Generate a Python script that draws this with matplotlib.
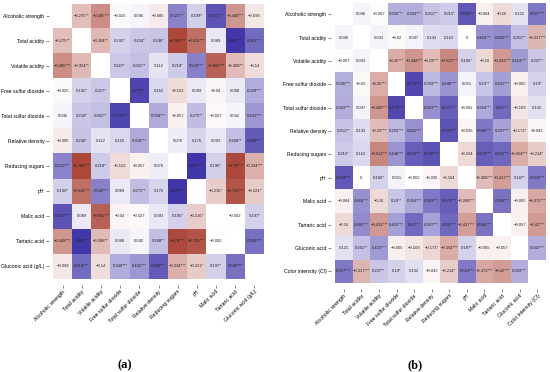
import numpy as np
import matplotlib
matplotlib.use('Agg')
import matplotlib.pyplot as plt
from matplotlib.colors import LinearSegmentedColormap

plt.rcParams['font.family'] = ['Liberation Sans', 'DejaVu Sans']

# (a) variables and lower triangle of the correlation matrix
labels_a = ['Alcoholic strength', 'Total acidity', 'Volatile acidity', 'Free sulfur dioxide',
            'Total sulfur dioxide', 'Relative density', 'Reducing sugars', 'pH',
            'Malic acid', 'Tartaric acid', 'Gluconic acid (g/L)']
corr_a = [
    [-0.275],
    [-0.485, -0.304],
    [-0.025, 0.192, 0.227],
    [0.046, 0.234, 0.261, 0.779],
    [-0.085, 0.246, 0.112, 0.162, 0.358],
    [0.521, -0.785, 0.218, -0.152, -0.057, 0.076],
    [0.199, -0.616, 0.529, 0.089, 0.275, 0.176, 0.897],
    [0.721, 0.089, -0.682, -0.04, -0.027, 0.093, 0.195, -0.216],
    [-0.448, 0.84, -0.288, 0.088, 0.042, 0.268, -0.78, -0.726, -0.002],
    [-0.098, 0.619, -0.14, 0.349, 0.432, 0.686, -0.334, -0.221, 0.197, 0.599],
]
stars_a = [
    [2],
    [3, 2],
    [0, 1, 1],
    [0, 1, 2, 3],
    [0, 1, 0, 0, 3],
    [3, 3, 1, 0, 0, 0],
    [1, 3, 3, 0, 2, 0, 3],
    [3, 0, 3, 0, 0, 0, 1, 1],
    [3, 3, 2, 0, 0, 2, 3, 3, 0],
    [0, 3, 0, 3, 3, 3, 3, 1, 1, 3],
]

# (b) variables and lower triangle
labels_b = ['Alcoholic strength', 'Total acidity', 'Volatile acidity', 'Free sulfur dioxide',
            'Total sulfur dioxide', 'Relative density', 'Reducing sugars', 'pH',
            'Malic acid', 'Tartaric acid', 'Gluconic acid', 'Color intensity (CI)']
corr_b = [
    [0.046],
    [-0.007, 0.043],
    [0.336, -0.02, -0.35],
    [0.343, 0.047, -0.448, 0.773],
    [0.251, 0.143, -0.29, 0.293, 0.463],
    [0.215, 0.163, -0.513, 0.448, 0.676, 0.722],
    [0.704, 0, 0.186, 0.051, -0.002, -0.035, -0.164],
    [-0.064, 0.464, -0.16, 0.24, 0.364, 0.569, 0.673, -0.288],
    [-0.16, 0.485, -0.432, 0.402, 0.63, 0.397, 0.632, -0.417, 0.586],
    [0.121, 0.261, 0.423, -0.065, -0.109, -0.173, -0.354, 0.187, -0.065, -0.057],
    [0.567, -0.317, 0.237, 0.19, 0.132, -0.043, -0.214, 0.563, -0.372, -0.42, 0.343],
]
stars_b = [
    [0],
    [0, 0],
    [3, 0, 3],
    [3, 0, 3, 3],
    [2, 0, 3, 3, 3],
    [1, 0, 3, 3, 3, 3],
    [3, 0, 1, 0, 0, 0, 0],
    [0, 3, 0, 2, 3, 3, 3, 3],
    [0, 3, 3, 3, 3, 3, 3, 3, 3],
    [0, 2, 3, 0, 0, 1, 3, 1, 0, 0],
    [3, 3, 2, 1, 0, 0, 1, 3, 3, 3, 3],
]

cmap = LinearSegmentedColormap.from_list('rw_b', ['#a63a2c', '#ffffff', '#4136a8'])


def full_matrix(lower):
    n = len(lower) + 1
    m = np.full((n, n), np.nan)
    for i, row in enumerate(lower, start=1):
        for j, v in enumerate(row):
            m[i, j] = v
            m[j, i] = v
    return m


def draw(ax, labels, lower, stars):
    vals = full_matrix(lower)
    st = full_matrix(stars)
    n = len(labels)
    # spine offsets first: set_position resets the tick labels
    for s in ax.spines.values():
        s.set_visible(False)
    ax.spines['bottom'].set_position(('outward', 4))
    ax.spines['left'].set_position(('outward', 3))
    ax.imshow(vals, cmap=cmap, vmin=-0.85, vmax=0.85, aspect='auto', interpolation='nearest')
    for i in range(n):
        for j in range(n):
            if np.isnan(vals[i, j]):
                continue
            txt = f'{vals[i, j]:g}'.replace('-', '\u2212') + '*' * int(st[i, j])
            ax.text(j, i, txt, ha='center', va='center', fontsize=3.0, color='#222222')
    ax.set_xticks(range(n))
    ax.set_yticks(range(n))
    ax.set_xticklabels(labels, rotation=45, ha='right', rotation_mode='anchor', fontsize=3.7)
    ax.set_yticklabels(labels, fontsize=3.7)
    ax.tick_params(length=2.5, width=0.5, color='#555555', pad=0.8)


fig = plt.figure(figsize=(5.5, 3.72), dpi=100)
ax1 = fig.add_axes([53 / 550, (372 - 279) / 372, 211 / 550, 275.5 / 372])
ax2 = fig.add_axes([335 / 550, (372 - 283) / 372, 211 / 550, 280.5 / 372])
draw(ax1, labels_a, corr_a, stars_a)
draw(ax2, labels_b, corr_b, stars_b)

fig.text(125 / 550, 1 - 365 / 372, '(a)', ha='center', va='center', fontsize=9,
         fontweight='bold', family='Liberation Serif')
fig.text(415 / 550, 1 - 365 / 372, '(b)', ha='center', va='center', fontsize=9,
         fontweight='bold', family='Liberation Serif')

fig.savefig('out.png', dpi=100)
